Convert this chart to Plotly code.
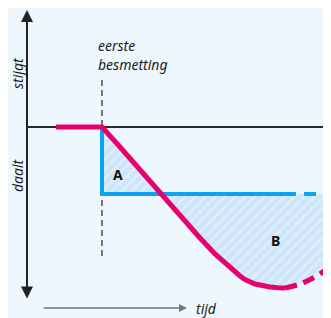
import numpy as np
import plotly.graph_objects as go

# ---- data (time t: 0 = first infection; level: 0 = baseline) ----
pink_t = [-4.6, 0, 1.8, 3.8, 5.8, 7.8, 9.8, 11.3, 12.8, 13.8, 14.3, 14.8, 15.3, 15.8, 16.3, 16.8, 17.6, 18.3]
pink_y = [0, 0, -2.0, -4.3, -6.5, -8.8, -11.1, -12.7, -14.1, -14.9, -15.25, -15.5, -15.7, -15.8, -15.95, -16.0, -16.07, -16.1]
pink_dash_t = [18.3, 19.8, 21.3, 22.9, 23.8]
pink_dash_y = [-16.1, -15.7, -15.0, -13.9, -13.1]
blue_t = [0, 0, 18.2]
blue_y = [0, -6.7, -6.7]
blue_dash_t = [18.2, 23.8]
blue_dash_y = [-6.7, -6.7]
infection_t = 0
labels = ["stijgt", "daalt", "eerste", "besmetting", "tijd", "A", "B"]

BG = "#EEF7FE"
PINK = "#E8006F"
BLUE = "#0AA5F2"
HATCH_BG = "#CFE6FA"

# ---- fill polygons built from the series ----
all_t = np.array(pink_t[1:] + pink_dash_t[1:])
all_y = np.array(pink_y[1:] + pink_dash_y[1:])
lvl = blue_y[-1]
t_cross = float(np.interp(lvl, all_y[::-1], all_t[::-1]))
maskA = all_y > lvl
A_t = list(all_t[maskA]) + [t_cross, blue_t[1]]
A_y = list(all_y[maskA]) + [lvl, lvl]
maskB = all_y < lvl
B_t = [t_cross] + list(all_t[maskB]) + [blue_dash_t[-1], t_cross]
B_y = [lvl] + list(all_y[maskB]) + [lvl, lvl]

pattern = dict(shape="/", bgcolor=HATCH_BG, fgcolor="white", size=7, solidity=0.22)

fig = go.Figure()
fig.add_trace(go.Scatter(x=A_t, y=A_y, fill="toself", fillcolor=HATCH_BG, fillpattern=pattern,
                         mode="none", hoverinfo="skip"))
fig.add_trace(go.Scatter(x=B_t, y=B_y, fill="toself", fillcolor=HATCH_BG, fillpattern=pattern,
                         mode="none", hoverinfo="skip"))

# baseline
fig.add_trace(go.Scatter(x=[-7.5, 23.8], y=[0, 0], mode="lines",
                         line=dict(color="#2a2a2a", width=2), hoverinfo="skip"))
# first infection dashed line
fig.add_trace(go.Scatter(x=[infection_t, infection_t], y=[4.7, -13.0], mode="lines",
                         line=dict(color="#222", width=1.2, dash="6px,4px"), hoverinfo="skip"))
# blue
fig.add_trace(go.Scatter(x=blue_t, y=blue_y, mode="lines",
                         line=dict(color=BLUE, width=4), hoverinfo="skip"))
fig.add_trace(go.Scatter(x=blue_dash_t, y=blue_dash_y, mode="lines",
                         line=dict(color=BLUE, width=4, dash="12px,8px"), hoverinfo="skip"))
# pink
fig.add_trace(go.Scatter(x=pink_t, y=pink_y, mode="lines",
                         line=dict(color=PINK, width=5), hoverinfo="skip"))
fig.add_trace(go.Scatter(x=pink_dash_t, y=pink_dash_y, mode="lines", line_shape="spline",
                         line=dict(color=PINK, width=5, dash="12px,7px"), hoverinfo="skip"))

font_it = dict(family="Noto Sans", size=14, color="#1e1e1e", style="italic")
font_b = dict(family="Noto Sans", size=14, color="#111")
ann = []
ann.append(dict(x=-7.5, y=11.7, ax=-7.5, ay=-17.3, xref="x", yref="y", axref="x", ayref="y",
                text="", showarrow=True, arrowhead=2, startarrowhead=2, arrowside="end+start",
                arrowsize=1.2, arrowwidth=2, arrowcolor="#222"))
ann.append(dict(x=8.5, y=-18.1, ax=-6.0, ay=-18.1, xref="x", yref="y", axref="x", ayref="y",
                text="", showarrow=True, arrowhead=2, arrowsize=1, arrowwidth=1.6, arrowcolor="#777"))
ann.append(dict(x=-8.5, y=5.4, text=labels[0], showarrow=False, textangle=-90, font=font_it, borderpad=0))
ann.append(dict(x=-8.5, y=-4.8, text=labels[1], showarrow=False, textangle=-90, font=font_it, borderpad=0))
ann.append(dict(x=-0.6, y=8.2, text=labels[2], showarrow=False, xanchor="left", font=font_it))
ann.append(dict(x=-0.6, y=6.3, text=labels[3], showarrow=False, xanchor="left", font=font_it))
ann.append(dict(x=9.2, y=-18.1, text=labels[4], showarrow=False, xanchor="left", font=font_it))
ann.append(dict(x=1.6, y=-4.7, text="<b>" + labels[5] + "</b>", showarrow=False, font=font_b))
ann.append(dict(x=17.3, y=-11.3, text="<b>" + labels[6] + "</b>", showarrow=False, font=font_b))

fig.update_layout(
    width=331, height=318, margin=dict(l=0, r=0, t=0, b=0),
    paper_bgcolor=BG, plot_bgcolor=BG, showlegend=False,
    xaxis=dict(range=[-9.4, 23.7], visible=False, fixedrange=True),
    yaxis=dict(range=[-19.9, 11.9], visible=False, fixedrange=True),
    annotations=ann,
)
fig.write_html("out.html")
